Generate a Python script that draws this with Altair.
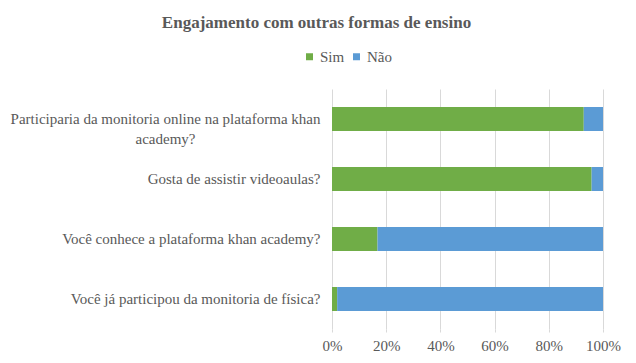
import altair as alt
import pandas as pd

questions = [
    "Participaria da monitoria online na plataforma khan\nacademy?",
    "Gosta de assistir videoaulas?",
    "Você conhece a plataforma khan academy?",
    "Você já participou da monitoria de física?",
]
sim = [0.929, 0.958, 0.168, 0.019]
nao = [round(1 - s, 3) for s in sim]
answers = ["Sim", "Não"]
colors = ["#70AD47", "#5B9BD5"]

rows = []
for q, s, n in zip(questions, sim, nao):
    rows.append({"pergunta": q, "resposta": "Sim", "valor": s, "ordem": 0})
    rows.append({"pergunta": q, "resposta": "Não", "valor": n, "ordem": 1})
df = pd.DataFrame(rows)

FONT = "Liberation Serif"
GREY = "#595959"

chart = (
    alt.Chart(df)
    .mark_bar()
    .encode(
        y=alt.Y(
            "pergunta:N",
            sort=questions,
            scale=alt.Scale(paddingInner=0.6, paddingOuter=0.3),
            axis=alt.Axis(
                title=None,
                domain=False,
                ticks=False,
                labelExpr="split(datum.label, '\\n')",
                labelLimit=400,
                labelFontSize=15,
                labelColor=GREY,
                labelLineHeight=20,
                labelAlign={"condition": {"test": "indexof(datum.value, 'Participaria') == 0", "value": "center"}, "value": "right"},
                labelPadding={"condition": {"test": "indexof(datum.value, 'Participaria') == 0", "value": 167}, "value": 12},
            ),
        ),
        x=alt.X(
            "valor:Q",
            stack="zero",
            scale=alt.Scale(domain=[0, 1]),
            axis=alt.Axis(
                title=None,
                format="%",
                values=[0, 0.2, 0.4, 0.6, 0.8, 1.0],
                domain=False,
                ticks=True,
                tickSize=3,
                tickColor="#d9d9d9",
                gridColor="#d9d9d9",
                labelFontSize=15,
                labelColor=GREY,
                labelPadding=6,
                labelFlush=False,
            ),
        ),
        color=alt.Color(
            "resposta:N",
            sort=answers,
            scale=alt.Scale(domain=answers, range=colors),
            legend=alt.Legend(
                title=None,
                orient="none",
                direction="horizontal",
                legendX=-30,
                legendY=-40,
                symbolType="square",
                symbolSize=49,
                symbolStrokeWidth=0,
                labelFontSize=15,
                labelColor=GREY,
                labelOffset=3,
                columnPadding=4,
            ),
        ),
        order=alt.Order("ordem:Q"),
    )
    .properties(
        width=271,
        height=240,
        autosize=alt.AutoSizeParams(type="none"),
        padding={"left": 324, "top": 81, "right": 25, "bottom": 26},
        title=alt.TitleParams(
            "Engajamento com outras formas de ensino",
            fontSize=17,
            fontWeight="bold",
            color=GREY,
            anchor="middle",
            dx=-151,
            offset=17,
        ),
    )
    .configure(font=FONT)
    .configure_axis(labelFont=FONT)
    .configure_legend(labelFont=FONT)
    .configure_title(font=FONT)
    .configure_view(stroke=None)
)

chart.save("out.html", embed_options={"renderer": "svg", "actions": False})
